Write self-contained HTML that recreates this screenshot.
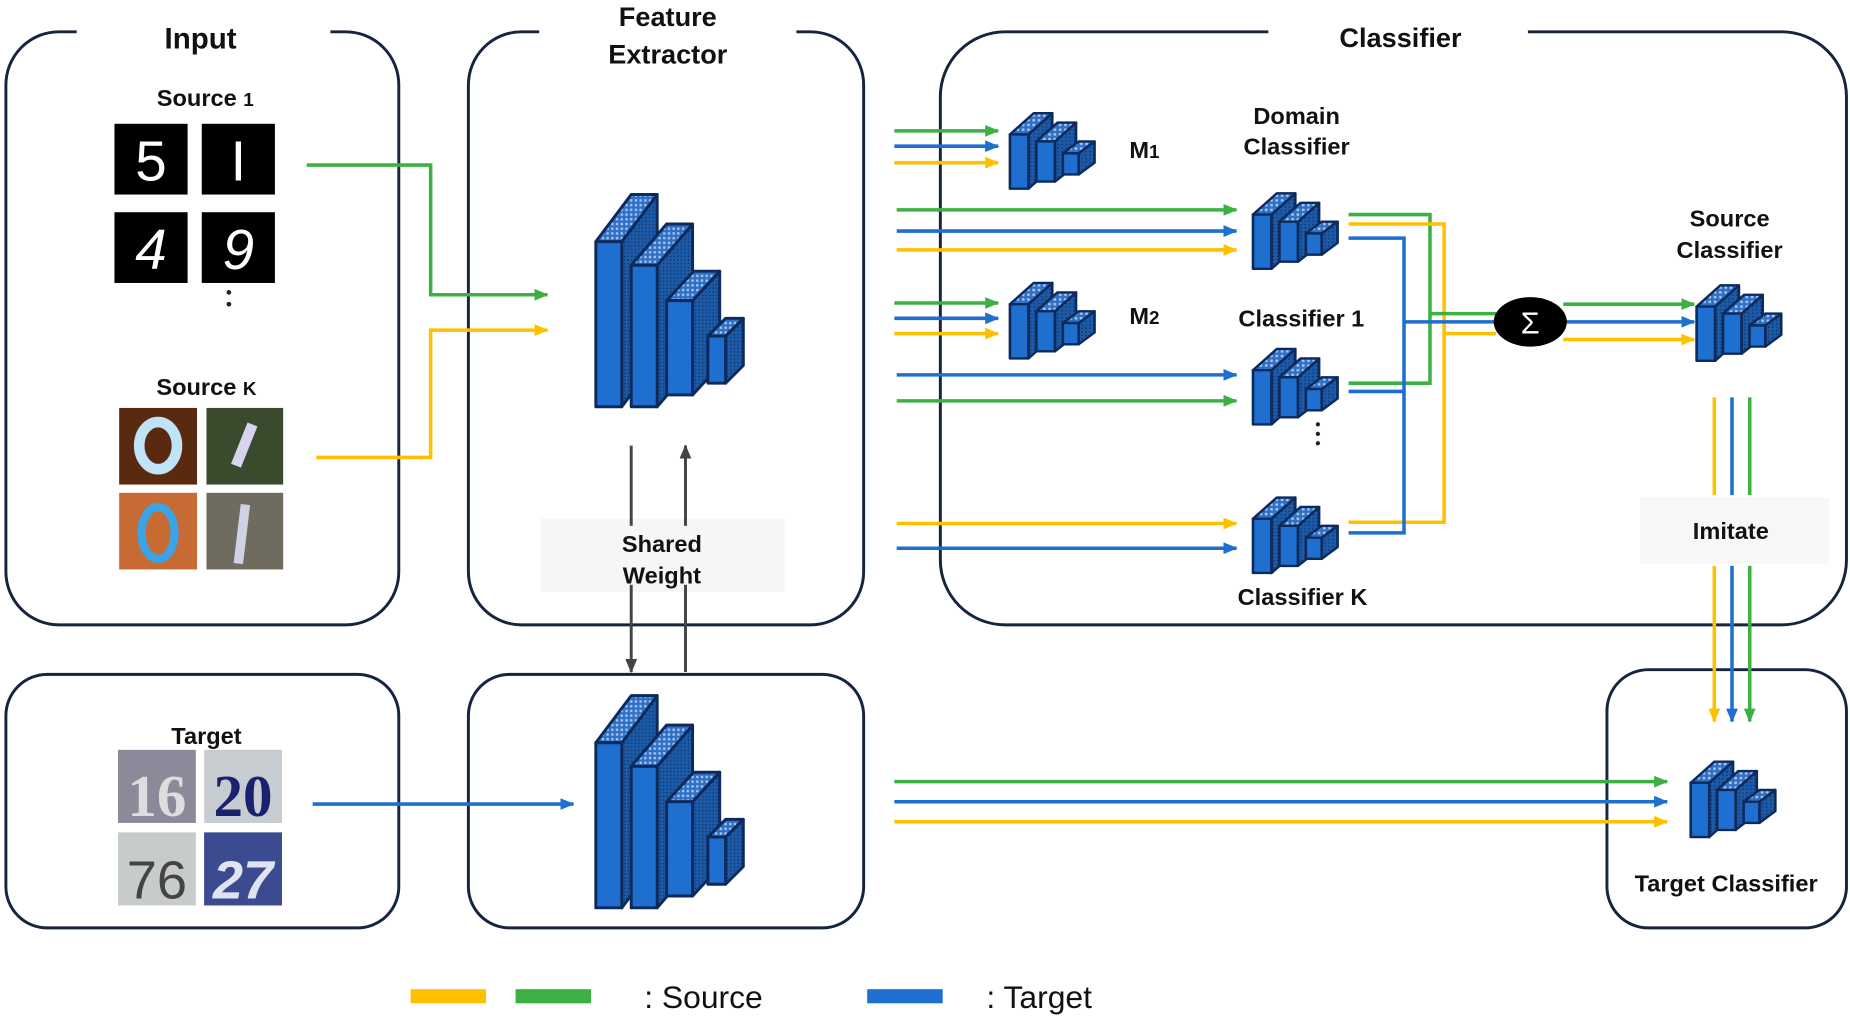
<!DOCTYPE html>
<html><head><meta charset="utf-8"><style>
html,body{margin:0;padding:0;background:#fff;}
svg{display:block;}
text{font-family:"Liberation Sans",sans-serif;font-weight:bold;fill:#111;}
</style></head><body>
<svg width="1850" height="1021" viewBox="0 0 1568 866" preserveAspectRatio="none" xmlns="http://www.w3.org/2000/svg">
<defs>
<pattern id="dots" width="4" height="4" patternUnits="userSpaceOnUse"><rect width="4" height="4" fill="#2f6fc4"/><rect x="1" y="1" width="2" height="2" fill="#a9c8f0"/></pattern>
<pattern id="hatch" width="3" height="3" patternUnits="userSpaceOnUse"><rect width="3" height="3" fill="#1c5aa8"/><rect width="1" height="1" fill="#0d2a5c"/></pattern>
<g id="big" stroke="#0d2a5c" stroke-width="2.5" stroke-linejoin="round">
  <polygon points="22,45 52,5 52,145 22,185" fill="url(#hatch)"/>
  <polygon points="0,45 22,45 52,5 30,5" fill="url(#dots)"/>
  <rect x="0" y="45" width="22" height="140" fill="#1f6fd0"/>
  <polygon points="52,65 82,30 82,150 52,185" fill="url(#hatch)"/>
  <polygon points="30,65 52,65 82,30 60,30" fill="url(#dots)"/>
  <rect x="30" y="65" width="22" height="120" fill="#1f6fd0"/>
  <polygon points="82,95 105,70 105,150 82,175" fill="url(#hatch)"/>
  <polygon points="60,95 82,95 105,70 83,70" fill="url(#dots)"/>
  <rect x="60" y="95" width="22" height="80" fill="#1f6fd0"/>
  <polygon points="110,125 125,110 125,150 110,165" fill="url(#hatch)"/>
  <polygon points="95,125 110,125 125,110 110,110" fill="url(#dots)"/>
  <rect x="95" y="125" width="15" height="40" fill="#1f6fd0"/>
</g>
<g id="sm0" stroke="#0d2a5c" stroke-width="2" stroke-linejoin="round">
  <polygon points="14,22 32,4 32,50 14,68" fill="url(#hatch)"/>
  <polygon points="0,22 14,22 32,4 18,4" fill="url(#dots)"/>
  <rect x="0" y="22" width="14" height="46" fill="#1f6fd0"/>
  <polygon points="34,28 50,12 50,48 34,62" fill="url(#hatch)"/>
  <polygon points="20,28 34,28 50,12 36,12" fill="url(#dots)"/>
  <rect x="20" y="28" width="14" height="34" fill="#1f6fd0"/>
  <polygon points="52,38 64,28 64,46 52,56" fill="url(#hatch)"/>
  <polygon points="40,38 52,38 64,28 52,28" fill="url(#dots)"/>
  <rect x="40" y="38" width="12" height="18" fill="#1f6fd0"/>
</g>
<g id="sm"><use href="#sm0" transform="scale(1.12,1)"/></g>
<marker id="ag" markerWidth="12" markerHeight="10" refX="11" refY="5" orient="auto" markerUnits="userSpaceOnUse" viewBox="0 0 12 10"><path d="M0,0 L12,5 L0,10z" fill="#3cb043"/></marker>
<marker id="ab" markerWidth="12" markerHeight="10" refX="11" refY="5" orient="auto" markerUnits="userSpaceOnUse" viewBox="0 0 12 10"><path d="M0,0 L12,5 L0,10z" fill="#1f6fd0"/></marker>
<marker id="ay" markerWidth="12" markerHeight="10" refX="11" refY="5" orient="auto" markerUnits="userSpaceOnUse" viewBox="0 0 12 10"><path d="M0,0 L12,5 L0,10z" fill="#ffc000"/></marker>
<marker id="ak" markerWidth="12" markerHeight="10" refX="11" refY="5" orient="auto" markerUnits="userSpaceOnUse" viewBox="0 0 12 10"><path d="M0,0 L12,5 L0,10z" fill="#444"/></marker>
</defs>
<rect width="1568" height="866" fill="#fff"/>
<g fill="none" stroke="#16243f" stroke-width="2.5">
<rect x="5" y="27" width="333" height="503" rx="45"/>
<rect x="397" y="27" width="335" height="503" rx="45"/>
<rect x="797" y="27" width="768" height="503" rx="55"/>
<rect x="5" y="572" width="333" height="215" rx="35"/>
<rect x="397" y="572" width="335" height="215" rx="35"/>
<rect x="1362" y="568" width="203" height="219" rx="35"/>
</g>
<rect x="65" y="10" width="215" height="35" fill="#fff"/>
<rect x="457" y="0" width="218" height="60" fill="#fff"/>
<rect x="1075" y="10" width="220" height="35" fill="#fff"/>
<text x="170" y="41" font-size="25" text-anchor="middle">Input</text>
<text x="566" y="22" font-size="23" text-anchor="middle">Feature</text>
<text x="566" y="54" font-size="23" text-anchor="middle">Extractor</text>
<text x="1187" y="40" font-size="23" text-anchor="middle">Classifier</text>
<text x="174" y="90" font-size="20" text-anchor="middle">Source <tspan font-size="16">1</tspan></text>
<g font-size="48" text-anchor="middle">
<rect x="97" y="105" width="62" height="60" fill="#000"/><text x="128" y="153" style="fill:#fff;font-weight:normal">5</text>
<rect x="171" y="105" width="62" height="60" fill="#000"/><text x="202" y="153" style="fill:#fff;font-weight:normal">I</text>
<rect x="97" y="180" width="62" height="60" fill="#000"/><text x="128" y="228" style="fill:#fff;font-weight:normal;font-style:italic">4</text>
<rect x="171" y="180" width="62" height="60" fill="#000"/><text x="202" y="228" style="fill:#fff;font-weight:normal;font-style:italic">9</text>
</g>
<circle cx="194" cy="248" r="2" fill="#222"/><circle cx="194" cy="258" r="2" fill="#222"/>
<text x="175" y="335" font-size="20" text-anchor="middle">Source <tspan font-size="16">K</tspan></text>
<rect x="101" y="346" width="66" height="65" fill="#5a2a10"/><ellipse cx="134" cy="378" rx="16" ry="20" fill="none" stroke="#bfe3f7" stroke-width="9"/>
<rect x="175" y="346" width="65" height="65" fill="#3a4a2c"/><path d="M214,360 L200,395" stroke="#d8d4f0" stroke-width="9"/>
<rect x="101" y="418" width="66" height="65" fill="#c86a34"/><ellipse cx="134" cy="452" rx="14" ry="22" fill="none" stroke="#3aa4e6" stroke-width="7"/>
<rect x="175" y="418" width="65" height="65" fill="#6f6c5f"/><path d="M208,428 L202,478" stroke="#cfd2e6" stroke-width="8"/>
<text x="175" y="631" font-size="20" text-anchor="middle">Target</text>
<rect x="100" y="636" width="66" height="62" fill="#8a8a9a"/><text x="133" y="692" font-size="50" text-anchor="middle" style="fill:#ddd;font-family:'Liberation Serif'">16</text>
<rect x="173" y="636" width="66" height="62" fill="#c6ccd0"/><text x="206" y="692" font-size="50" text-anchor="middle" style="fill:#1a2270;font-family:'Liberation Serif'">20</text>
<rect x="100" y="706" width="66" height="62" fill="#c8ccc8"/><text x="133" y="762" font-size="46" text-anchor="middle" style="fill:#444;font-weight:normal">76</text>
<rect x="173" y="706" width="66" height="62" fill="#3c4a90"/><text x="206" y="762" font-size="46" text-anchor="middle" style="fill:#e0e4f0;font-style:italic">27</text>
<use href="#big" x="505" y="160"/>
<use href="#big" x="505" y="585"/>
<use href="#sm" x="856" y="92"/>
<use href="#sm" x="856" y="236"/>
<use href="#sm" x="1062" y="160"/>
<use href="#sm" x="1062" y="292"/>
<use href="#sm" x="1062" y="418"/>
<use href="#sm" x="1438" y="238"/>
<use href="#sm" x="1433" y="642"/>
<rect x="458" y="440" width="207" height="62" fill="#f6f6f6"/>
<line x1="535" y1="378" x2="535" y2="570" stroke="#444" stroke-width="2.5" marker-end="url(#ak)"/>
<line x1="581" y1="570" x2="581" y2="378" stroke="#444" stroke-width="2.5" marker-end="url(#ak)"/>
<rect x="520" y="446" width="80" height="50" fill="#f6f6f6"/>
<text x="561" y="468" font-size="20" text-anchor="middle">Shared</text>
<text x="561" y="495" font-size="20" text-anchor="middle">Weight</text>
<g fill="none" stroke-width="3">
<polyline points="260,140 365,140 365,250 464,250" stroke="#3cb043" marker-end="url(#ag)"/>
<polyline points="268,388 365,388 365,280 464,280" stroke="#ffc000" marker-end="url(#ay)"/>
<line x1="265" y1="682" x2="486" y2="682" stroke="#1f6fd0" marker-end="url(#ab)"/>
<line x1="758" y1="111" x2="846" y2="111" stroke="#3cb043" marker-end="url(#ag)"/>
<line x1="758" y1="124" x2="846" y2="124" stroke="#1f6fd0" marker-end="url(#ab)"/>
<line x1="758" y1="138" x2="846" y2="138" stroke="#ffc000" marker-end="url(#ay)"/>
<line x1="758" y1="257" x2="846" y2="257" stroke="#3cb043" marker-end="url(#ag)"/>
<line x1="758" y1="270" x2="846" y2="270" stroke="#1f6fd0" marker-end="url(#ab)"/>
<line x1="758" y1="283" x2="846" y2="283" stroke="#ffc000" marker-end="url(#ay)"/>
<line x1="760" y1="178" x2="1048" y2="178" stroke="#3cb043" marker-end="url(#ag)"/>
<line x1="760" y1="196" x2="1048" y2="196" stroke="#1f6fd0" marker-end="url(#ab)"/>
<line x1="760" y1="212" x2="1048" y2="212" stroke="#ffc000" marker-end="url(#ay)"/>
<line x1="760" y1="318" x2="1048" y2="318" stroke="#1f6fd0" marker-end="url(#ab)"/>
<line x1="760" y1="340" x2="1048" y2="340" stroke="#3cb043" marker-end="url(#ag)"/>
<line x1="760" y1="444" x2="1048" y2="444" stroke="#ffc000" marker-end="url(#ay)"/>
<line x1="760" y1="465" x2="1048" y2="465" stroke="#1f6fd0" marker-end="url(#ab)"/>
<polyline points="1143,182 1212,182 1212,325 1143,325" stroke="#3cb043"/>
<polyline points="1143,190 1224,190 1224,443 1143,443" stroke="#ffc000"/>
<polyline points="1143,202 1190,202 1190,452 1143,452" stroke="#1f6fd0"/>
<line x1="1143" y1="332" x2="1190" y2="332" stroke="#1f6fd0"/>
<line x1="1212" y1="266" x2="1268" y2="266" stroke="#3cb043"/>
<line x1="1190" y1="273" x2="1268" y2="273" stroke="#1f6fd0"/>
<line x1="1224" y1="283" x2="1268" y2="283" stroke="#ffc000"/>
<line x1="1325" y1="258" x2="1436" y2="258" stroke="#3cb043" marker-end="url(#ag)"/>
<line x1="1325" y1="273" x2="1436" y2="273" stroke="#1f6fd0" marker-end="url(#ab)"/>
<line x1="1325" y1="288" x2="1436" y2="288" stroke="#ffc000" marker-end="url(#ay)"/>
<line x1="1453" y1="337" x2="1453" y2="420" stroke="#ffc000"/>
<line x1="1468" y1="337" x2="1468" y2="420" stroke="#1f6fd0"/>
<line x1="1483" y1="337" x2="1483" y2="420" stroke="#3cb043"/>
<line x1="1453" y1="480" x2="1453" y2="612" stroke="#ffc000" marker-end="url(#ay)"/>
<line x1="1468" y1="480" x2="1468" y2="612" stroke="#1f6fd0" marker-end="url(#ab)"/>
<line x1="1483" y1="480" x2="1483" y2="612" stroke="#3cb043" marker-end="url(#ag)"/>
<line x1="758" y1="663" x2="1413" y2="663" stroke="#3cb043" marker-end="url(#ag)"/>
<line x1="758" y1="680" x2="1413" y2="680" stroke="#1f6fd0" marker-end="url(#ab)"/>
<line x1="758" y1="697" x2="1413" y2="697" stroke="#ffc000" marker-end="url(#ay)"/>
</g>
<ellipse cx="1297" cy="273" rx="31" ry="21" fill="#000"/>
<text x="1297" y="283" font-size="26" text-anchor="middle" style="fill:#fff;font-weight:normal">Σ</text>
<rect x="1390" y="422" width="160" height="56" fill="#f7f7f7"/>
<text x="1467" y="457" font-size="20" text-anchor="middle">Imitate</text>
<text x="970" y="134" font-size="20" text-anchor="middle">M<tspan font-size="16">1</tspan></text>
<text x="970" y="275" font-size="20" text-anchor="middle">M<tspan font-size="16">2</tspan></text>
<text x="1099" y="105" font-size="20" text-anchor="middle">Domain</text>
<text x="1099" y="131" font-size="20" text-anchor="middle">Classifier</text>
<text x="1103" y="277" font-size="20" text-anchor="middle">Classifier  1</text>
<circle cx="1117" cy="360" r="1.8" fill="#222"/><circle cx="1117" cy="368" r="1.8" fill="#222"/><circle cx="1117" cy="376" r="1.8" fill="#222"/>
<text x="1104" y="513" font-size="20" text-anchor="middle">Classifier K</text>
<text x="1466" y="192" font-size="20" text-anchor="middle">Source</text>
<text x="1466" y="219" font-size="20" text-anchor="middle">Classifier</text>
<text x="1463" y="756" font-size="20" text-anchor="middle">Target Classifier</text>
<rect x="348" y="839" width="64" height="12" fill="#ffc000"/>
<rect x="437" y="839" width="64" height="12" fill="#3cb043"/>
<text x="546" y="855" font-size="27" style="font-weight:normal">: Source</text>
<rect x="735" y="839" width="64" height="12" fill="#1f6fd0"/>
<text x="836" y="855" font-size="27" style="font-weight:normal">: Target</text>
</svg>
</body></html>
